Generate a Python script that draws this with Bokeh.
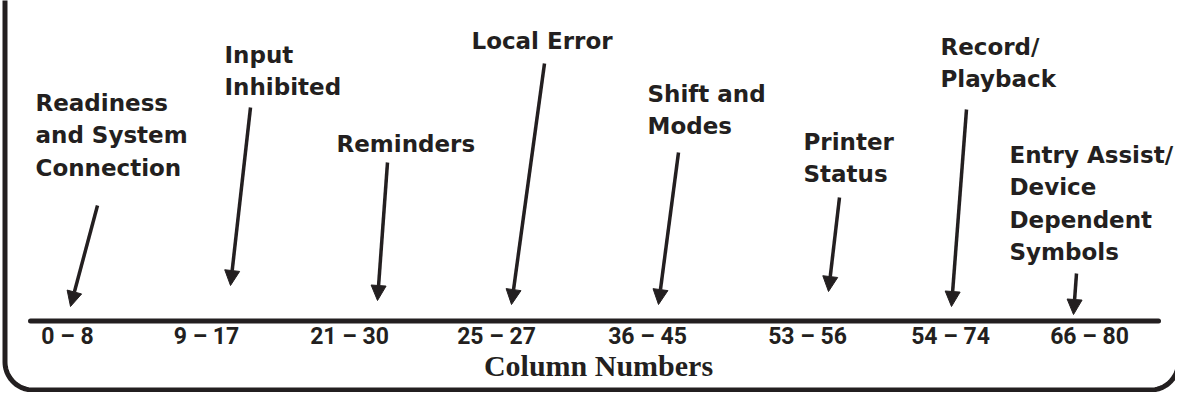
import numpy as np
from bokeh.plotting import figure
from bokeh.models import Range1d, Arrow, NormalHead, ColumnDataSource
from bokeh.core.properties import value
from bokeh.embed import file_html
from bokeh.resources import INLINE

# ---------------- data ----------------
column_ranges = ["0 – 8", "9 – 17", "21 – 30", "25 – 27",
                 "36 – 45", "53 – 56", "54 – 74", "66 – 80"]
field_names = ["Readiness\nand System\nConnection", "Input\nInhibited", "Reminders",
               "Local Error", "Shift and\nModes", "Printer\nStatus",
               "Record/\nPlayback", "Entry Assist/\nDevice\nDependent\nSymbols"]
axis_title = "Column Numbers"

# ---------------- layout (page pixels) ----------------
slot_x = [75, 214, 357, 504, 655, 815, 958, 1097]
label_left = [43, 232, 344, 479, 655, 811, 948, 1017]
label_base = [111, 63, 152, 49, 102, 150, 55, 163]
arrow_start = [(105, 205), (258, 107), (395, 162), (552, 63),
               (686, 152), (847, 197), (974, 109), (1084, 273)]
arrow_tip = [(78, 306), (238, 285), (385, 300), (519, 304),
             (666, 304), (836, 291), (959, 306), (1081, 314)]
LINE_STEP = 32.3
AXIS_Y = 320.5
AXIS_X0, AXIS_X1 = 38, 1166
INK = "#231f20"
# renderer places glyph baseline lower than the anchor by about this much
LABEL_SHIFT, TICK_SHIFT, TITLE_SHIFT = 8.5, 9.5, 12.5

p = figure(width=1175, height=392, output_backend="svg", toolbar_location=None,
           x_range=Range1d(8, 1183), y_range=Range1d(392, 0),
           min_border=0, outline_line_color=None)
p.axis.visible = False
p.grid.visible = False
p.background_fill_color = "white"

# rounded frame (left, bottom, right edges)
r = 28
left_x, right_x, bottom_y = 12.5, 1186, 389.5
t1 = np.linspace(np.pi, np.pi / 2, 20)
t2 = np.linspace(np.pi / 2, 0, 20)
bx = np.concatenate([[left_x], left_x + r + r * np.cos(t1), right_x - r + r * np.cos(t2), [right_x]])
by = np.concatenate([[-5], bottom_y - r + r * np.sin(t1), bottom_y - r + r * np.sin(t2), [-5]])
p.line(bx, by, line_color=INK, line_width=5, line_join="round")

# axis line
p.line([AXIS_X0, AXIS_X1], [AXIS_Y, AXIS_Y], line_color=INK, line_width=5, line_cap="round")

# tick labels
tick_src = ColumnDataSource(dict(x=slot_x, y=[345 - TICK_SHIFT] * len(slot_x), t=column_ranges))
p.text(x="x", y="y", text="t", source=tick_src, text_align="center",
       text_baseline="alphabetic", text_font=value("Roboto"),
       text_font_style="bold", text_font_size="23px", text_color=INK)

# axis title
p.text(x=[606], y=[377 - TITLE_SHIFT], text=[axis_title], text_align="center",
       text_baseline="alphabetic", text_font=value("Liberation Serif"),
       text_font_style="bold", text_font_size="30px", text_color=INK)

# field labels (one text per line)
lx, ly, lt = [], [], []
for name, x0, b0 in zip(field_names, label_left, label_base):
    for k, line in enumerate(name.split("\n")):
        lx.append(x0)
        ly.append(b0 + k * LINE_STEP - LABEL_SHIFT)
        lt.append(line)
p.text(x=lx, y=ly, text=lt, text_align="left", text_baseline="alphabetic",
       text_font=value("DejaVu Sans"), text_font_style="bold",
       text_font_size="23px", text_color=INK)

# arrows
arr_src = ColumnDataSource(dict(
    x0=[s[0] for s in arrow_start], y0=[s[1] for s in arrow_start],
    x1=[t[0] for t in arrow_tip], y1=[t[1] for t in arrow_tip]))
p.add_layout(Arrow(end=NormalHead(size=15, fill_color=INK, line_color=INK, line_width=1),
                   x_start="x0", y_start="y0", x_end="x1", y_end="y1",
                   source=arr_src, line_color=INK, line_width=3.5))

open("out.html", "w").write(file_html(p, INLINE))
